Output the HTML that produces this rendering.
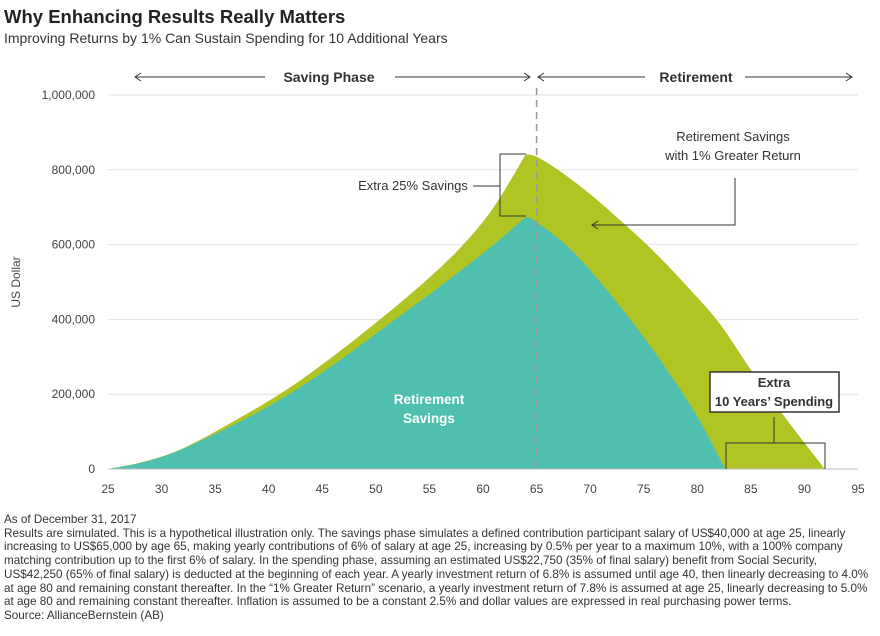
<!DOCTYPE html>
<html><head><meta charset="utf-8"><style>
body{margin:0;background:#fff;font-family:"Liberation Sans",sans-serif;color:#333}
#wrap{position:relative;width:880px;height:636px;overflow:hidden}
.t{position:absolute;white-space:nowrap}
#notes{position:absolute;left:4px;top:513px;width:870px;font-size:11.7px;line-height:13.7px;color:#333}
</style></head><body>
<div id="wrap">
<div class="t" style="left:4px;top:6px;font-size:18.5px;font-weight:bold;color:#222">Why Enhancing Results Really Matters</div>
<div class="t" style="left:4px;top:30px;font-size:14px;color:#333">Improving Returns by 1% Can Sustain Spending for 10 Additional Years</div>
<svg id="svg" width="880" height="510" style="position:absolute;left:0;top:0"></svg>
<div id="notes">As of December 31, 2017<br>Results are simulated. This is a hypothetical illustration only. The savings phase simulates a defined contribution participant salary of US$40,000 at age 25, linearly increasing to US$65,000 by age 65, making yearly contributions of 6% of salary at age 25, increasing by 0.5% per year to a maximum 10%, with a 100% company matching contribution up to the first 6% of salary. In the spending phase, assuming an estimated US$22,750 (35% of final salary) benefit from Social Security, US$42,250 (65% of final salary) is deducted at the beginning of each year. A yearly investment return of 6.8% is assumed until age 40, then linearly decreasing to 4.0% at age 80 and remaining constant thereafter. In the “1% Greater Return” scenario, a yearly investment return of 7.8% is assumed at age 25, linearly decreasing to 5.0% at age 80 and remaining constant thereafter. Inflation is assumed to be a constant 2.5% and dollar values are expressed in real purchasing power terms.<br>Source: AllianceBernstein (AB)</div>
</div>
<script>
const xTicks=[25,30,35,40,45,50,55,60,65,70,75,80,85,90,95];
const yTicks=[0,200000,400000,600000,800000,1000000];
const yTickLabels=["0","200,000","400,000","600,000","800,000","1,000,000"];
const baseAges=[25,28,31,34,37,40,43,46,49,52,55,58,61,64,65,68,71,74,77,80,82.6];
const baseValues=[0,16000,42000,80000,122000,168000,220000,278000,340000,404000,467000,532000,600000,674000,660000,592000,498000,390000,272000,140000,0];
const greaterAges=[25,28,31,34,37,40,43,46,49,52,55,58,61,64,65,67,70,73,76,79,82,85,88,91.9];
const greaterValues=[0,17000,43000,84000,132000,182000,238000,301000,368000,438000,512000,595000,700000,842000,835000,800000,735000,660000,580000,490000,392000,265000,145000,0];
const NS="http://www.w3.org/2000/svg",svg=document.getElementById('svg');
const X=a=>108+(a-25)*(750/70), Y=v=>469-v*374/1e6;
function mk(t,at,p){const e=document.createElementNS(NS,t);for(const k in at)e.setAttribute(k,at[k]);(p||svg).appendChild(e);return e;}
yTicks.forEach((v,i)=>{
 if(v>0){const g=mk('line',{x1:108,x2:858,y1:Y(v),y2:Y(v),stroke:'#e3e3e3','stroke-width':1});
 
 }
 const t=mk('text',{x:95,y:Y(v)+4,'text-anchor':'end','font-size':12,fill:'#444'});t.textContent=yTickLabels[i];
 
 
});
xTicks.forEach(a=>{const t=mk('text',{x:X(a),y:493,'text-anchor':'middle','font-size':12,fill:'#444'});t.textContent=a;
 
 });
function smooth(pts){let d='';for(let i=0;i<pts.length-1;i++){const p0=pts[Math.max(0,i-1)],p1=pts[i],p2=pts[i+1],p3=pts[Math.min(pts.length-1,i+2)];
 const c1=[p1[0]+(p2[0]-p0[0])/6,p1[1]+(p2[1]-p0[1])/6],c2=[p2[0]-(p3[0]-p1[0])/6,p2[1]-(p3[1]-p1[1])/6];
 d+=' C'+c1[0]+','+c1[1]+' '+c2[0]+','+c2[1]+' '+p2[0]+','+p2[1];}return d;}
function area(ages,vals,col,name){
 let pk=0;vals.forEach((v,i)=>{if(v>vals[pk])pk=i;});
 const pts=ages.map((a,i)=>[X(a),Y(vals[i])]);
 const up=pts.slice(0,pk+1),dn=pts.slice(pk);
 let d='M'+up[0][0]+','+up[0][1]+smooth(up)+smooth(dn)+' Z';
 const p=mk('path',{d:d,fill:col});
 
 }
area(greaterAges,greaterValues,'#b0c424','area-greater-return');
area(baseAges,baseValues,'#4fbfb0','area-retirement-savings');
const ax=mk('line',{x1:108,x2:858,y1:469,y2:469,stroke:'#bbb'});


const dv=mk('line',{x1:X(65),x2:X(65),y1:88,y2:469,stroke:'#999','stroke-dasharray':'7,5','stroke-width':1.5});


const yt=mk('text',{x:0,y:0,transform:'translate(20,282) rotate(-90)','text-anchor':'middle','font-size':12,fill:'#444'});yt.textContent='US Dollar';


function txt(s,x,y,o,name){const t=mk('text',Object.assign({x:x,y:y,'font-size':13,fill:'#333','text-anchor':'middle'},o));t.textContent=s;
 
 return t;}
function ln(d,name,w){const p=mk('path',{d:d,fill:'none',stroke:'#333','stroke-width':w||1});
 
 }
ln('M135,77 H265 M395,77 H530 M141,73 L135,77 L141,81 M524,73 L530,77 L524,81','saving-phase-arrow');
ln('M538,77 H645 M745,77 H852 M544,73 L538,77 L544,81 M846,73 L852,77 L846,81','retirement-arrow');
txt('Saving Phase',329,82,{'font-weight':'bold','font-size':14},'saving-phase-label');
txt('Retirement',696,82,{'font-weight':'bold','font-size':14},'retirement-label');
ln('M500,154 H526 M500,154 V216 H526 M473,186 H500','extra-savings-bracket');
txt('Extra 25% Savings',413,190,{},'extra-savings-label');
txt('Retirement Savings',733,141,{},'greater-return-label');
txt('with 1% Greater Return',733,160,{},'greater-return-label-2');
ln('M735,178 V225 H592 M598,221 L592,225 L598,229','greater-return-arrow');
txt('Retirement',429,404,{'font-weight':'bold',fill:'#fff','font-size':13.5},'retirement-savings-label');
txt('Savings',429,423,{'font-weight':'bold',fill:'#fff','font-size':13.5},'retirement-savings-label-2');
const bx=mk('rect',{x:710,y:372,width:129,height:40,fill:'#fff',stroke:'#333','stroke-width':1.5});


txt('Extra',774,387,{'font-weight':'bold','font-size':13},'extra-spending-label');
txt('10 Years’ Spending',774,406,{'font-weight':'bold','font-size':13},'extra-spending-label-2');
ln('M774,417 V443 M726,469 V443 H825 V469','extra-spending-bracket');
</script>
</body></html>
